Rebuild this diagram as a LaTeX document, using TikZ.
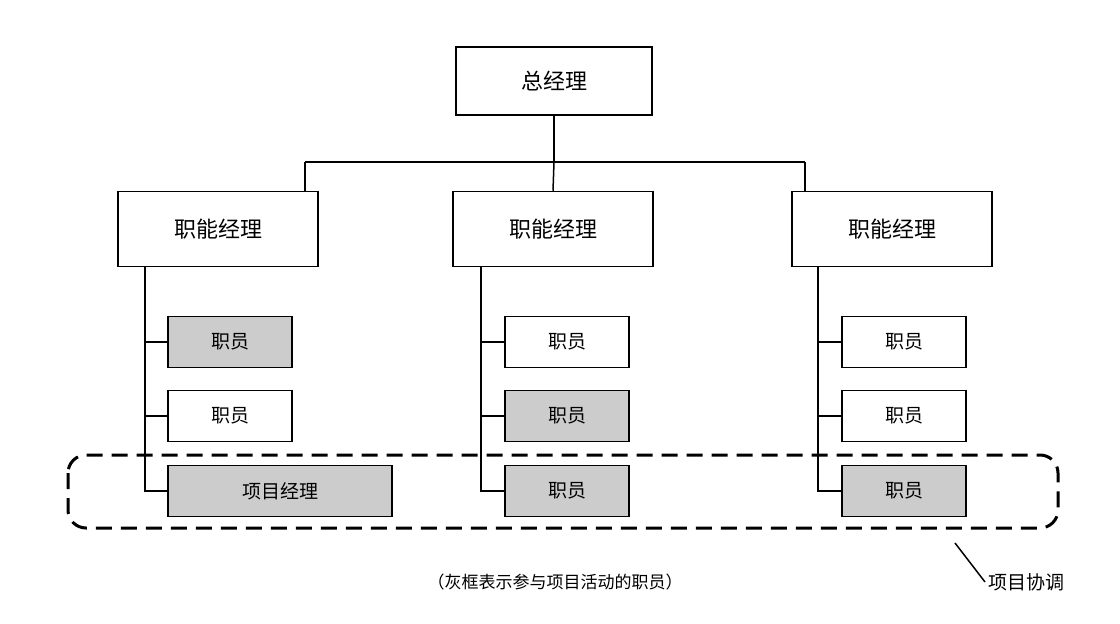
\documentclass[tikz,border=0pt]{standalone}
\usepackage{fontspec}
\setmainfont{Noto Sans CJK SC}
\usetikzlibrary{positioning}
\begin{document}
\begin{tikzpicture}[x=1pt,y=-1pt,
  boss/.style={draw,line width=1.5pt,minimum width=196pt,minimum height=68pt,font=\fontsize{22}{24}\selectfont},
  mgr/.style={draw,line width=1.5pt,minimum width=200pt,minimum height=75pt,font=\fontsize{22}{24}\selectfont},
  staff/.style={draw,line width=1.5pt,minimum width=124pt,minimum height=51pt,font=\fontsize{19}{22}\selectfont},
  part/.style={staff,fill=gray!40},
  link/.style={line width=1.5pt}]
  \useasboundingbox (0,0) rectangle (1120,624);

  \node[boss] (GM) at (554,81) {总经理};

  \node[mgr] (M1) at (218,229) {职能经理};
  \node[mgr] (M2) at (553,229) {职能经理};
  \node[mgr] (M3) at (892,229) {职能经理};

  \coordinate (J) at (554,162);
  \draw[link] (GM.south) -- (J);
  \draw[link] (305,162) -- (805,162);
  \draw[link] (305,162) -- (305,192);
  \draw[link] (J) -- (M2.north);
  \draw[link] (805,162) -- (805,192);

  % left column
  \node[part] (S11) at (230,342) {职员};
  \node[staff] (S12) at (230,416) {职员};
  \node[part,minimum width=224pt] (PM) at (280,491) {项目经理};
  % middle column
  \node[staff] (S21) at (567,342) {职员};
  \node[part] (S22) at (567,416) {职员};
  \node[part] (S23) at (567,491) {职员};
  % right column
  \node[staff] (S31) at (904,342) {职员};
  \node[staff] (S32) at (904,416) {职员};
  \node[part] (S33) at (904,491) {职员};

  \draw[link] (145,267) |- (PM.west);
  \draw[link] (145,342) -- (S11.west);
  \draw[link] (145,416) -- (S12.west);
  \draw[link] (481,267) |- (S23.west);
  \draw[link] (481,342) -- (S21.west);
  \draw[link] (481,416) -- (S22.west);
  \draw[link] (818,267) |- (S33.west);
  \draw[link] (818,342) -- (S31.west);
  \draw[link] (818,416) -- (S32.west);

  \draw[line width=3pt,dash pattern=on 16pt off 9pt,rounded corners=18pt] (68,455) rectangle (1058,528);

  \node[font=\fontsize{17}{20}\selectfont] (note) at (555,582) {（灰框表示参与项目活动的职员）};
  \node[font=\fontsize{19}{22}\selectfont,anchor=west] (co) at (985,582) {项目协调};
  \coordinate (tip) at (955,543);
  \draw[line width=1.5pt] (tip) -- (co.west);
\end{tikzpicture}
\end{document}
